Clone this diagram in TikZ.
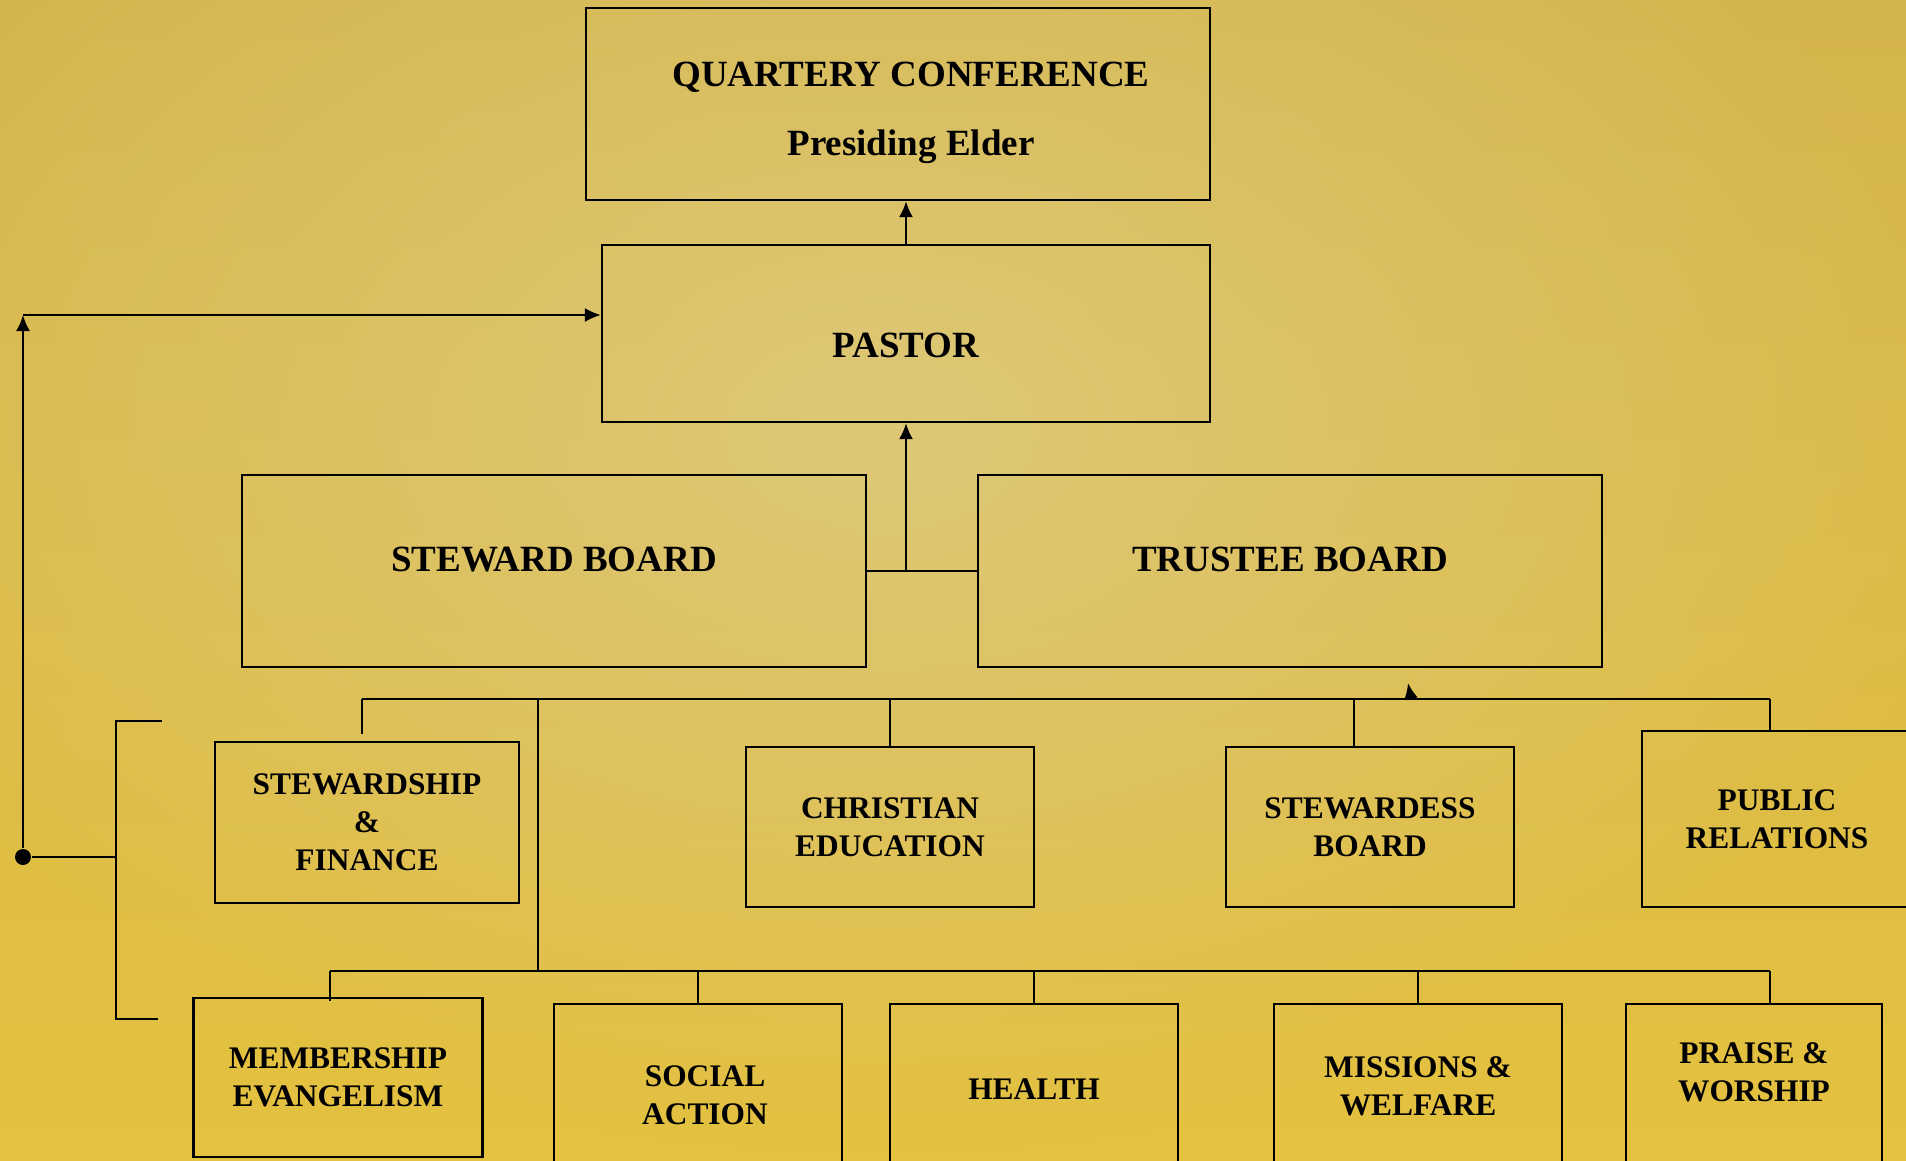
\documentclass[tikz,border=0pt]{standalone}
\usepackage{fontspec}
\setmainfont{Liberation Serif}
\usetikzlibrary{positioning,arrows.meta,fadings}
\definecolor{GoldEdge}{HTML}{D4B54C}
\definecolor{GoldLow}{HTML}{E4C13F}
\definecolor{GoldLight}{HTML}{DEC878}
\tikzfading[name=glowfade, inner color=transparent!0, outer color=transparent!100]
% struts that push a label up or down inside its box
\newcommand{\padlow}[1]{\rule[-#1]{0pt}{0pt}}
\newcommand{\padhigh}[1]{\rule{0pt}{#1}}

\begin{document}
\begin{tikzpicture}[x=0.5pt, y=-0.5pt, >={Latex[length=8pt,width=7pt]},
                    line width=1.1pt,
                    box/.style={draw, line width=1.1pt, align=center, inner sep=0pt,
                                font=\bfseries\fontsize{18.5}{34.5}\selectfont},
                    subbox/.style={box, font=\bfseries\fontsize{15.7}{19}\selectfont},
                    lowbox/.style={subbox, anchor=north, minimum width=144pt, minimum height=95pt},
                    hubdot/.style={circle, fill, inner sep=0pt, minimum size=8pt}]
\useasboundingbox (0,0) rectangle (1906,1161);
\clip (0,0) rectangle (1906,1161);
% background
\fill[top color=GoldEdge, bottom color=GoldLow] (0,0) rectangle (1906,1161);
\fill[GoldLight, path fading=glowfade] (880,430) ellipse [x radius=560pt, y radius=360pt];

% boxes
\node[box, minimum width=312pt, minimum height=96pt] (qc) at (898,104)
  {\hspace*{13pt}QUARTERY CONFERENCE\padhigh{21pt}\\\hspace*{13pt}Presiding Elder};
\node[box, minimum width=304pt, minimum height=88.5pt] (pastor) at (906,333.5) {PASTOR\padhigh{24.5pt}};
\node[box, minimum width=312pt, minimum height=96pt] (steward) at (554,571) {STEWARD BOARD\padlow{12pt}};
\node[box, minimum width=312pt, minimum height=96pt] (trustee) at (1290,571) {TRUSTEE BOARD\padlow{12pt}};

\node[subbox, minimum width=152pt, minimum height=80.5pt] (stewardship) at (367,822.5) {STEWARDSHIP\\\&\\FINANCE};
\node[subbox, minimum width=144pt, minimum height=80pt] (christian) at (890,827) {CHRISTIAN\\EDUCATION};
\node[subbox, minimum width=144pt, minimum height=80pt] (stewardess) at (1370,827) {STEWARDESS\\BOARD};
\node[subbox, minimum width=135pt, minimum height=88pt] (public) at (1777,819) {PUBLIC\\RELATIONS};

\node[subbox, minimum width=144.5pt, minimum height=79.5pt] (membership) at (338,1077.5) {MEMBERSHIP\\EVANGELISM};
\node[lowbox] (social) at (698,1003) {\hspace*{7pt}SOCIAL\\\hspace*{7pt}ACTION\padlow{4pt}};
\node[lowbox] (health) at (1034,1003) {HEALTH\padlow{10pt}};
\node[lowbox] (missions) at (1418,1003) {MISSIONS \&\\WELFARE\padlow{13pt}};
\node[lowbox, minimum width=128pt] (praise) at (1754,1003) {PRAISE \&\\WORSHIP\padlow{27pt}};

% upper links
\draw[->] (pastor.north) -- (pastor.north |- qc.south);
\coordinate (join) at (pastor.south |- steward.east);
\draw (steward.east) -- (trustee.west);
\draw[->] (join) -- (pastor.south);

% committee buses
\coordinate (ubL) at (362,699);
\coordinate (ubR) at (1770,699);
\coordinate (ubJ) at (538,699);
\coordinate (lbL) at (330,971);
\coordinate (lbR) at (1770,971);
\draw (ubL) -- (ubR);
\draw (lbL) -- (lbR);
\draw (ubJ) -- (ubJ |- lbL);
\draw (ubL) -- ([xshift=-2.5pt,yshift=3.5pt]stewardship.north);
\foreach \n/\dx in {christian/0, stewardess/-8, public/-3.5}
  \draw ([xshift=\dx pt]\n.north) -- ([xshift=\dx pt]\n.north |- ubL);
\draw (lbL) -- ([xshift=-4pt,yshift=-2pt]membership.north);
\foreach \n/\dx in {social/0, health/0, missions/0, praise/8}
  \draw ([xshift=\dx pt]\n.north) -- ([xshift=\dx pt]\n.north |- lbL);
\coordinate (tarr) at (1411,699);
\draw[->] (tarr) -- ++(-3,-16);

% left bracket and feedback to pastor
\coordinate (brT) at (116,721);
\coordinate (brB) at (116,1019);
\draw (brT) ++(46,0) -- (brT) -- (brB) -- ++(42,0);
\node[hubdot] (hub) at (23,857) {};
\draw (hub) -- (hub -| brT);
\coordinate (corner) at (23,315);
\draw[->] (hub) -- (corner);
\draw[->] (corner) -- (corner -| pastor.west);
\end{tikzpicture}
\end{document}
